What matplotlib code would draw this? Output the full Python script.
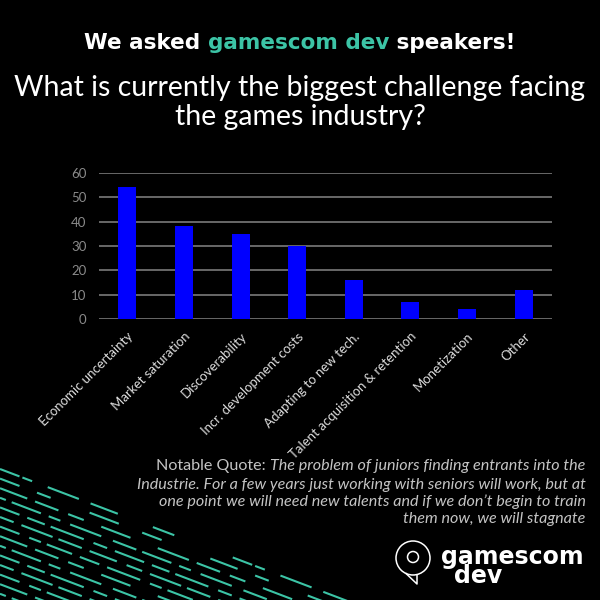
import matplotlib
matplotlib.use('Agg')
import matplotlib.pyplot as plt
from matplotlib.offsetbox import TextArea, HPacker, AnnotationBbox
from matplotlib.patches import Circle

plt.rcParams['font.family'] = ['Lato', 'DejaVu Sans']

categorias = ['Economic uncertainty', 'Market saturation', 'Discoverability',
              'Incr. development costs', 'Adapting to new tech.',
              'Talent acquisition & retention', 'Monetization', 'Other']
valores = [54, 38, 35, 30, 16, 7, 4, 12]
yticks = [0, 10, 20, 30, 40, 50, 60]

teal = '#3cc4a6'
cinza = '#c4c4c4'

fig = plt.figure(figsize=(6, 6), dpi=100)
fig.patch.set_facecolor('black')

# fundo decorativo (tracos verdes no canto)
deco = fig.add_axes([0, 0, 1, 1], zorder=0)
deco.set_xlim(0, 600)
deco.set_ylim(600, 0)
deco.axis('off')
padroes = [(0, (10, 1.5, 5, 8, 16, 6, 14, 18, 11, 30)),
           (4, (14, 9, 7, 20, 15, 12, 10, 25)),
           (2, (16, 4, 12, 5, 8, 9, 15, 14)),
           (9, (12, 3, 15, 4, 6, 5, 16, 6)),
           (5, (15, 4, 9, 3, 17, 5, 7, 4)),
           (1, (8, 4, 16, 3, 12, 4, 14, 5)),
           (7, (17, 5, 6, 3, 13, 4, 10, 4))]
inclinacao = 0.38
for k in range(14):
    y0 = 469 + k * 9.6
    xfim = (605 - y0) / inclinacao
    deco.plot([0, xfim], [y0, y0 + inclinacao * xfim], color=teal, lw=1.5,
              linestyle=padroes[min(k, 2) if k < 2 else 2 + (k - 2) % 5],
              solid_capstyle='butt')

# grafico
ax = fig.add_axes([0.165, 0.468, 0.755, 0.244], zorder=2)
ax.set_facecolor('none')
x = range(len(categorias))
ax.bar(x, valores, width=0.32, color='#0000ff', zorder=3)
ax.set_xlim(-0.5, len(categorias) - 0.5)
ax.set_ylim(0, 60)
ax.set_yticks(yticks)
ax.yaxis.grid(True, color='#7a7a7a', lw=1.2)
ax.set_axisbelow(True)
for s in ax.spines.values():
    s.set_visible(False)
ax.tick_params(axis='both', length=0)
ax.tick_params(axis='y', colors='#8a8a8a', labelsize=9.5, pad=9)
ax.set_xticks(list(x))
ax.set_xticklabels(categorias, rotation=45, ha='right', rotation_mode='anchor',
                   color='#dcdcdc', fontsize=9.5)
ax.tick_params(axis='x', pad=8)

# titulo com partes coloridas
estilo = dict(fontsize=15.5, fontweight='bold', family='DejaVu Sans')
partes = [TextArea('We asked ', textprops=dict(color='white', **estilo)),
          TextArea('gamescom dev', textprops=dict(color=teal, **estilo)),
          TextArea(' speakers!', textprops=dict(color='white', **estilo))]
caixa = HPacker(children=partes, align='baseline', pad=0, sep=0)
fig.add_artist(AnnotationBbox(caixa, (0.5, 0.928), xycoords='figure fraction',
                              frameon=False, box_alignment=(0.5, 0.5)))

fig.text(0.5, 0.829, 'What is currently the biggest challenge facing\nthe games industry?',
         color='white', fontsize=20.5, ha='center', va='center', linespacing=1.12)

# citacao
linha1 = [TextArea('Notable Quote: ', textprops=dict(color=cinza, fontsize=11.6)),
          TextArea('The problem of juniors finding entrants into the',
                   textprops=dict(color=cinza, fontsize=11.6, style='italic'))]
fig.add_artist(AnnotationBbox(HPacker(children=linha1, align='baseline', pad=0, sep=0),
                              (0.976, 1 - 466 / 600), xycoords='figure fraction',
                              frameon=False, box_alignment=(1, 0.5)))
resto = ('Industrie. For a few years just working with seniors will work, but at\n'
         'one point we will need new talents and if we don\u2019t begin to train\n'
         'them now, we will stagnate')
fig.text(0.976, 1 - 502 / 600, resto, color=cinza, fontsize=11.6, style='italic',
         ha='right', va='center', linespacing=1.2)

# logo
logo = fig.add_axes([0, 0, 1, 1], zorder=1)
logo.set_xlim(0, 600)
logo.set_ylim(600, 0)
logo.axis('off')
logo.add_patch(Circle((413, 558), 17, fill=False, ec='white', lw=1.1))
logo.add_patch(Circle((413, 557), 5.5, fill=False, ec='white', lw=1.1))
logo.plot([406, 417, 417], [573.5, 584, 575], color='white', lw=1.1)
logo.text(441, 545, 'gamescom\n \u2009dev', color='white', fontsize=17, fontweight='bold',
          family='DejaVu Sans', va='top', ha='left', linespacing=0.72)

fig.savefig('out.png', dpi=100, facecolor='black')
